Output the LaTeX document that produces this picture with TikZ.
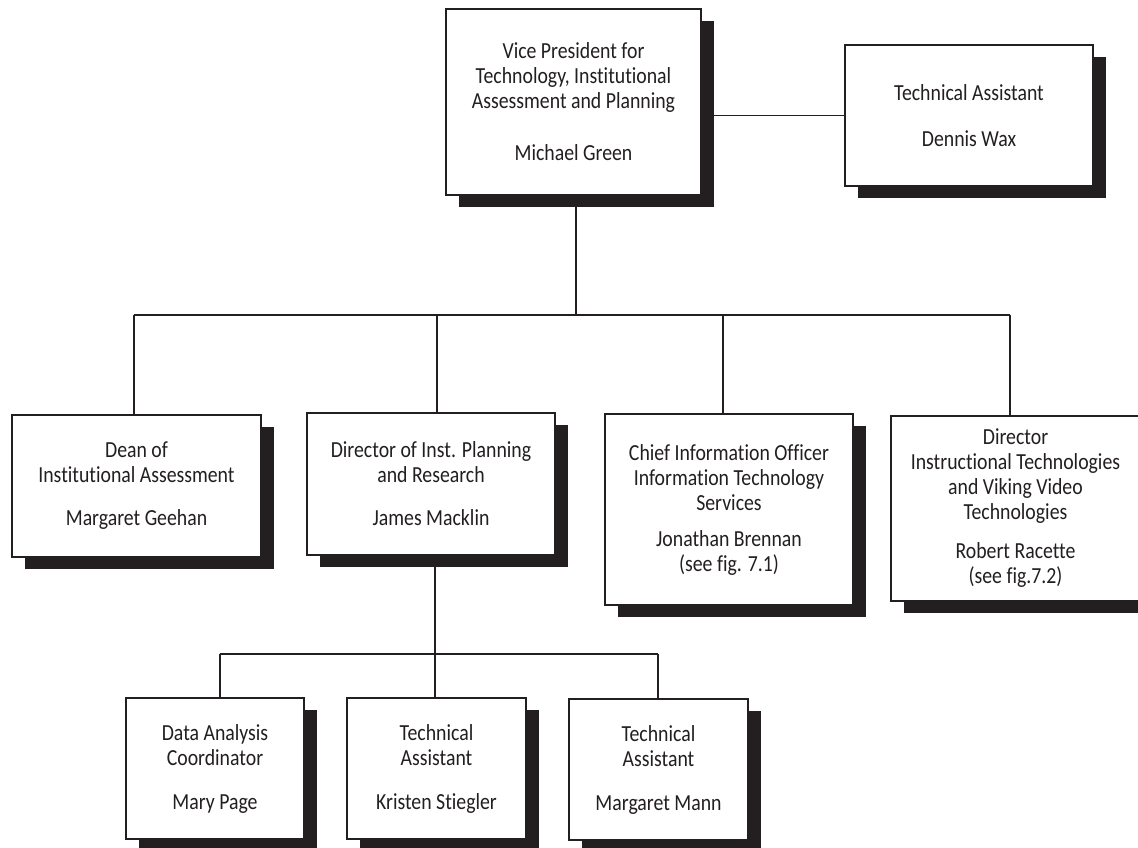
\documentclass[tikz,border=0pt]{standalone}
\usepackage{fontspec}
\setmainfont[FakeStretch=0.86, Ligatures={NoCommon}, RawFeature=-calt]{Carlito}
\usetikzlibrary{shadows}
\definecolor{ink}{HTML}{231F20}
\tikzset{
  orgbox/.style={draw=ink, line width=1.8pt, fill=white, inner sep=0pt, outer sep=0pt,
    align=center, text=ink, font=\fontsize{23}{25}\selectfont,
    drop shadow={shadow xshift=13pt, shadow yshift=-12pt, fill=ink, opacity=1}},
  link/.style={draw=ink, line width=1.8pt}
}
\begin{document}
\begin{tikzpicture}[x=1pt,y=-1pt]
\clip (0,0) rectangle (1138,848);
\fill[white] (0,0) rectangle (1138,848);
\coordinate (busL) at (134,315);
\coordinate (busR) at (1010,315);
\coordinate (bustwoL) at (220,654);
\coordinate (bustwoR) at (658,654);
% boxes
\node[orgbox, minimum width=255pt, minimum height=186pt] (vp) at (573.5,102)
  {Vice President for\\Technology, Institutional\\Assessment and Planning\\[27pt]Michael Green};
\node[orgbox, minimum width=248pt, minimum height=141pt] (ta) at (969,115.5)
  {Technical Assistant\\[21pt]Dennis Wax};
\draw[link] (vp.east |- ta.west) -- (ta.west);
\draw[link] ([xshift=2.5pt]vp.south) -- ([xshift=2.5pt]vp.south |- busL);
\draw[link] (busL) -- (busR);
\node[orgbox, minimum width=249pt, minimum height=142pt] (dean) at (136.5,486)
  {Dean of\\Institutional Assessment\\[18pt]Margaret Geehan};
\node[orgbox, minimum width=248pt, minimum height=142pt] (dir) at (431,484)
  {Director of Inst. Planning\\and Research\\[18pt]James Macklin};
\node[orgbox, minimum width=248pt, minimum height=191pt] (cio) at (729,509.5)
  {Chief Information Officer\\Information Technology\\Services\\[11pt]Jonathan Brennan\\(see fig. 7.1)};
\node[orgbox, minimum width=249pt, minimum height=185pt] (dit) at (1015.5,508.5)
  {Director\\Instructional Technologies\\and Viking Video\\Technologies\\[14pt]Robert Racette\\(see fig.7.2)};
\draw[link] (busL) -- (busL |- dean.north);
\draw[link] ([xshift=6pt]dir.north |- busL) -- ([xshift=6pt]dir.north);
\draw[link] ([xshift=-6pt]cio.north |- busL) -- ([xshift=-6pt]cio.north);
\draw[link] (busR) -- (busR |- dit.north);
\node[orgbox, minimum width=178pt, minimum height=141pt] (mary) at (215,768.5)
  {Data Analysis\\Coordinator\\[19pt]Mary Page};
\node[orgbox, minimum width=179pt, minimum height=141pt] (kris) at (436.5,768.5)
  {Technical\\Assistant\\[19pt]Kristen Stiegler};
\node[orgbox, minimum width=179pt, minimum height=141pt] (mann) at (658.5,769.5)
  {Technical\\Assistant\\[19pt]Margaret Mann};
\draw[link] ([xshift=4pt]dir.south) -- ([xshift=4pt]dir.south |- bustwoL);
\draw[link] (bustwoL) -- (bustwoR);
\draw[link] (bustwoL) -- (bustwoL |- mary.north);
\draw[link] ([xshift=-1.5pt]kris.north |- bustwoL) -- ([xshift=-1.5pt]kris.north);
\draw[link] (bustwoR) -- (bustwoR |- mann.north);
\end{tikzpicture}
\end{document}
